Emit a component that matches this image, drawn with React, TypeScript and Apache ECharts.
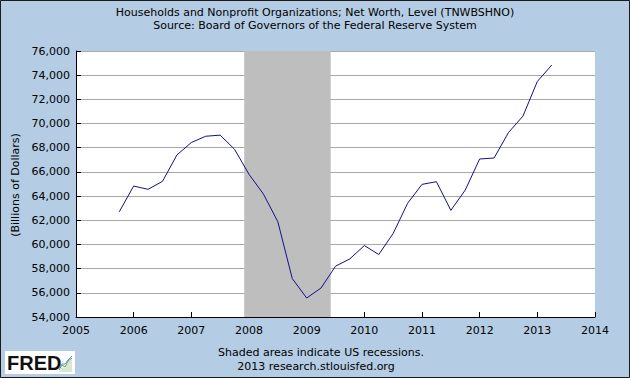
import React, { useEffect, useRef } from "react";
import * as echarts from "echarts";

const titleLines = [
  "Households and Nonprofit Organizations; Net Worth, Level (TNWBSHNO)",
  "Source: Board of Governors of the Federal Reserve System",
];
const footerLines = ["Shaded areas indicate US recessions.", "2013 research.stlouisfed.org"];
const yAxisName = "(Billions of Dollars)";

// quarterly observations (decimal year)
const dates = [
  2005.75, 2006.0, 2006.25, 2006.5, 2006.75, 2007.0, 2007.25, 2007.5, 2007.75,
  2008.0, 2008.25, 2008.5, 2008.75, 2009.0, 2009.25, 2009.5, 2009.75,
  2010.0, 2010.25, 2010.5, 2010.75, 2011.0, 2011.25, 2011.5, 2011.75,
  2012.0, 2012.25, 2012.5, 2012.75, 2013.0, 2013.25,
];
const netWorth = [
  62700, 64830, 64560, 65220, 67400, 68430, 68950, 69040, 67870,
  65800, 64170, 61880, 57180, 55570, 56400, 58200, 58810,
  59910, 59170, 60910, 63400, 64970, 65190, 62820, 64500,
  67070, 67150, 69260, 70610, 73480, 74840,
];
const recessionStart = 2007.917;
const recessionEnd = 2009.417;

const xMin = 2005;
const xMax = 2014;
const yMin = 54000;
const yMax = 76000;
const yStep = 2000;

export default function App() {
  const ref = useRef<HTMLDivElement>(null);
  useEffect(() => {
    document.body.style.margin = "0";
    const chart = echarts.init(ref.current!, undefined, { renderer: "svg" });
    const font = "DejaVu Sans";
    chart.setOption({
      animation: false,
      backgroundColor: "#B4CDE4",
      textStyle: { fontFamily: font },
      grid: { left: 76, right: 35, top: 51, bottom: 61, show: true, backgroundColor: "#FFFFFF", borderWidth: 0 },
      xAxis: {
        type: "value",
        min: xMin,
        max: xMax,
        interval: 1,
        axisLine: { show: true, lineStyle: { color: "#000000", width: 1 } },
        axisTick: { show: true, inside: true, length: 5, lineStyle: { color: "#000000" } },
        axisLabel: { color: "#000000", fontSize: 11, fontFamily: font, margin: 8, formatter: (v: number) => String(v) },
        splitLine: { show: false },
      },
      yAxis: {
        type: "value",
        min: yMin,
        max: yMax,
        interval: yStep,
        axisLine: { show: true, lineStyle: { color: "#000000", width: 1 } },
        axisTick: { show: true, inside: true, length: 5, lineStyle: { color: "#000000" } },
        axisLabel: {
          color: "#000000",
          fontSize: 11,
          fontFamily: font,
          margin: 6,
          formatter: (v: number) => v.toLocaleString("en-US"),
        },
        splitLine: { show: true, lineStyle: { color: "#A8A8A8", width: 1 } },
      },
      series: [
        {
          type: "line",
          data: [],
          silent: true,
          markArea: {
            silent: true,
            itemStyle: { color: "#BEBEBE", opacity: 1 },
            data: [[{ xAxis: recessionStart }, { xAxis: recessionEnd }]],
          },
        },
        {
          type: "line",
          data: dates.map((d, i) => [d, netWorth[i]]),
          showSymbol: false,
          symbol: "none",
          lineStyle: { color: "#10108F", width: 1 },
          z: 5,
        },
      ],
      graphic: [
        {
          type: "rect",
          shape: { x: 0.5, y: 0.5, width: 629, height: 377 },
          style: { fill: "none", stroke: "#1A1A1A", lineWidth: 1 },
          silent: true,
        },
        {
          type: "text",
          x: 315,
          y: 12,
          style: { text: titleLines[0], fill: "#000", font: `11px ${font}`, textAlign: "center", textVerticalAlign: "middle" },
        },
        {
          type: "text",
          x: 315,
          y: 25,
          style: { text: titleLines[1], fill: "#000", font: `11px ${font}`, textAlign: "center", textVerticalAlign: "middle" },
        },
        {
          type: "text",
          x: 321,
          y: 352,
          style: { text: footerLines[0], fill: "#000", font: `11px ${font}`, textAlign: "center", textVerticalAlign: "middle" },
        },
        {
          type: "text",
          x: 316,
          y: 366,
          style: { text: footerLines[1], fill: "#000", font: `11px ${font}`, textAlign: "center", textVerticalAlign: "middle" },
        },
        {
          type: "text",
          x: 15,
          y: 185,
          rotation: Math.PI / 2,
          style: { text: yAxisName, fill: "#000", font: `11px ${font}`, textAlign: "center", textVerticalAlign: "middle" },
        },
        {
          type: "rect",
          shape: { x: 5, y: 351, width: 70, height: 23 },
          style: { fill: "#FFFFFF" },
        },
        {
          type: "text",
          x: 7,
          y: 363,
          style: { text: "FRED", fill: "#111", font: `bold 20px "Liberation Sans"`, textVerticalAlign: "middle" },
        },
        {
          type: "polygon",
          shape: { points: [[59, 372], [62, 367], [65, 368], [68, 362], [72, 359], [72, 372]] },
          style: { fill: "#D8E8D0" },
        },
        {
          type: "polyline",
          shape: { points: [[59, 370], [62, 365], [65, 367], [68, 361], [72, 358]] },
          style: { stroke: "#5A9A50", lineWidth: 1, fill: "none" },
        },
        {
          type: "polyline",
          shape: { points: [[59, 368], [62, 364], [65, 364], [68, 360], [72, 356]] },
          style: { stroke: "#6A8FC0", lineWidth: 1, fill: "none" },
        },
      ],
    });
    return () => chart.dispose();
  }, []);
  return <div ref={ref} style={{ width: 630, height: 378, position: "absolute", left: 0, top: 0 }} />;
}
